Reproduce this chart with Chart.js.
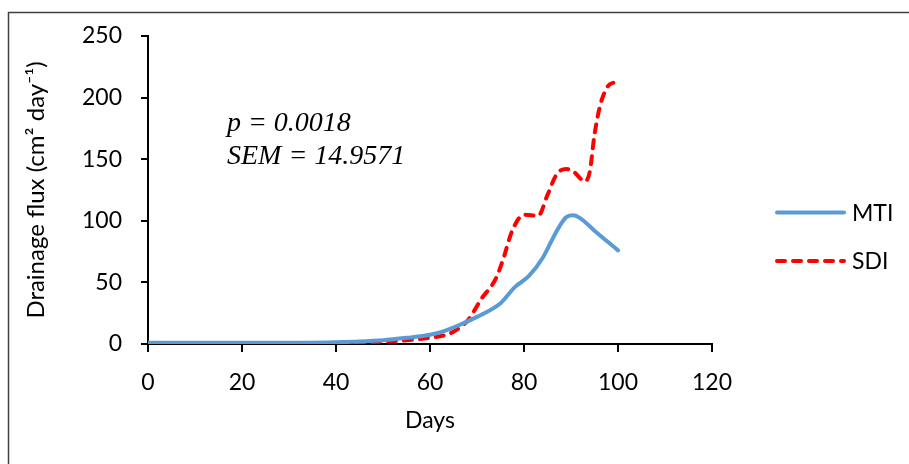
<!DOCTYPE html>
<html>
<head>
<meta charset="utf-8">
<script src="https://cdn.jsdelivr.net/npm/chart.js@4"></script>
<style>
  html, body { margin: 0; padding: 0; background: #fff; }
  #wrap { position: relative; width: 909px; height: 464px; }
</style>
</head>
<body>
<div id="wrap"><canvas id="myChart" width="909" height="464"></canvas></div>
<script>
// values
const mtiDays = [0, 10, 20, 30, 40, 45, 50, 55, 60, 63, 66, 70, 75, 78, 81, 84, 87, 89, 90.5, 92, 95, 100]
const mtiFlux = [1, 1, 1, 1, 1.5, 2, 3, 5, 7.5, 10.5, 15, 22, 33, 46, 55, 70, 92, 103, 104.5, 102, 92, 76]
const sdiDays = [0, 10, 20, 30, 40, 45, 50, 55, 60, 63, 65, 68, 71, 74, 75.5, 77.5, 80, 83, 85, 87, 89, 90.5, 93, 94, 95, 96.3, 98, 99]
const sdiFlux = [0.5, 0.5, 0.5, 0.5, 0.8, 1.2, 2, 3, 5, 7, 10, 19, 37, 53, 68, 92, 105, 104, 121, 138, 142, 140, 132, 140, 170, 195, 210, 212]
const xTicks = [0, 20, 40, 60, 80, 100, 120]
const yTicks = [0, 50, 100, 150, 200, 250]
const statLines = ["p = 0.0018", "SEM = 14.9571"]

const FONT = "Lato, 'Open Sans', sans-serif"

function toPoints(xs, ys) {
  return xs.map((x, i) => ({ x: x, y: ys[i] }))
}

// outer frame + stats text + legend
const extras = {
  id: 'extras',
  beforeDraw(chart) {
    const c = chart.ctx
    c.save()
    c.strokeStyle = '#404040'
    c.lineWidth = 1.5
    c.beginPath()
    c.moveTo(8.5, 464)
    c.lineTo(8.5, 12.5)
    c.lineTo(909, 12.5)
    c.stroke()
    c.restore()
  },
  afterDraw(chart) {
    const c = chart.ctx
    const xs = chart.scales.x, ys = chart.scales.y
    c.save()
    c.fillStyle = '#000'
    c.font = "italic 28px 'Liberation Serif', 'DejaVu Serif', serif"
    c.textBaseline = 'alphabetic'
    c.textAlign = 'left'
    c.fillText(statLines[0], xs.getPixelForValue(16.8), ys.getPixelForValue(172.5))
    c.fillText(statLines[1], xs.getPixelForValue(16.8), ys.getPixelForValue(146.1))

    // legend
    const rows = [212.5, 261]
    chart.data.datasets.forEach((ds, i) => {
      const y = rows[i]
      c.strokeStyle = ds.borderColor
      c.lineWidth = ds.borderWidth
      c.lineCap = 'round'
      c.setLineDash(ds.borderDash || [])
      c.beginPath()
      c.moveTo(777, y)
      c.lineTo(844, y)
      c.stroke()
      c.setLineDash([])
      c.fillStyle = '#000'
      c.font = "23px " + FONT
      c.textBaseline = 'middle'
      c.fillText(ds.label, 852, y + 1)
    })
    c.restore()
  }
}

const ctx = document.getElementById('myChart')
const myChart = new Chart(ctx, {
  type: 'line',
  data: {
    datasets: [{
      label: 'MTI',
      data: toPoints(mtiDays, mtiFlux),
      borderColor: '#5B9BD5',
      borderWidth: 4,
      pointRadius: 0,
      cubicInterpolationMode: 'monotone',
      borderCapStyle: 'round',
      borderJoinStyle: 'round'
    }, {
      label: 'SDI',
      data: toPoints(sdiDays, sdiFlux),
      borderColor: '#FF0000',
      borderWidth: 4,
      borderDash: [8, 8],
      borderCapStyle: 'round',
      pointRadius: 0,
      cubicInterpolationMode: 'monotone'
    }]
  },
  options: {
    responsive: false,
    animation: false,
    layout: { padding: { top: 36, right: 197, left: 0, bottom: 0 } },
    plugins: {
      legend: { display: false },
      tooltip: { enabled: false }
    },
    scales: {
      x: {
        type: 'linear',
        min: 0,
        max: 120,
        afterBuildTicks: s => { s.ticks = xTicks.map(v => ({ value: v })) },
        afterFit: s => { s.height = 120; s.paddingLeft = 0; s.paddingRight = 0 },
        grid: { drawOnChartArea: false, color: '#000', lineWidth: 2, tickLength: 8 },
        border: { color: '#000', width: 2 },
        ticks: { color: '#000', font: { family: FONT, size: 23 }, padding: 17, maxRotation: 0 },
        title: { display: true, text: 'Days', color: '#000', font: { family: FONT, size: 23 }, padding: { top: 0, bottom: 30 } }
      },
      y: {
        min: 0,
        max: 250,
        afterBuildTicks: s => { s.ticks = yTicks.map(v => ({ value: v })) },
        afterFit: s => { s.width = 148; s.paddingTop = 0; s.paddingBottom = 0 },
        grid: { drawOnChartArea: false, color: '#000', lineWidth: 2, tickLength: 7 },
        border: { color: '#000', width: 2 },
        ticks: { color: '#000', font: { family: FONT, size: 23 }, padding: 19 },
        title: { display: true, text: 'Drainage flux (cm² day⁻¹)', color: '#000', font: { family: FONT, size: 24 }, padding: { top: 22, bottom: 0 } }
      }
    }
  },
  plugins: [extras]
})
</script>
</body>
</html>
